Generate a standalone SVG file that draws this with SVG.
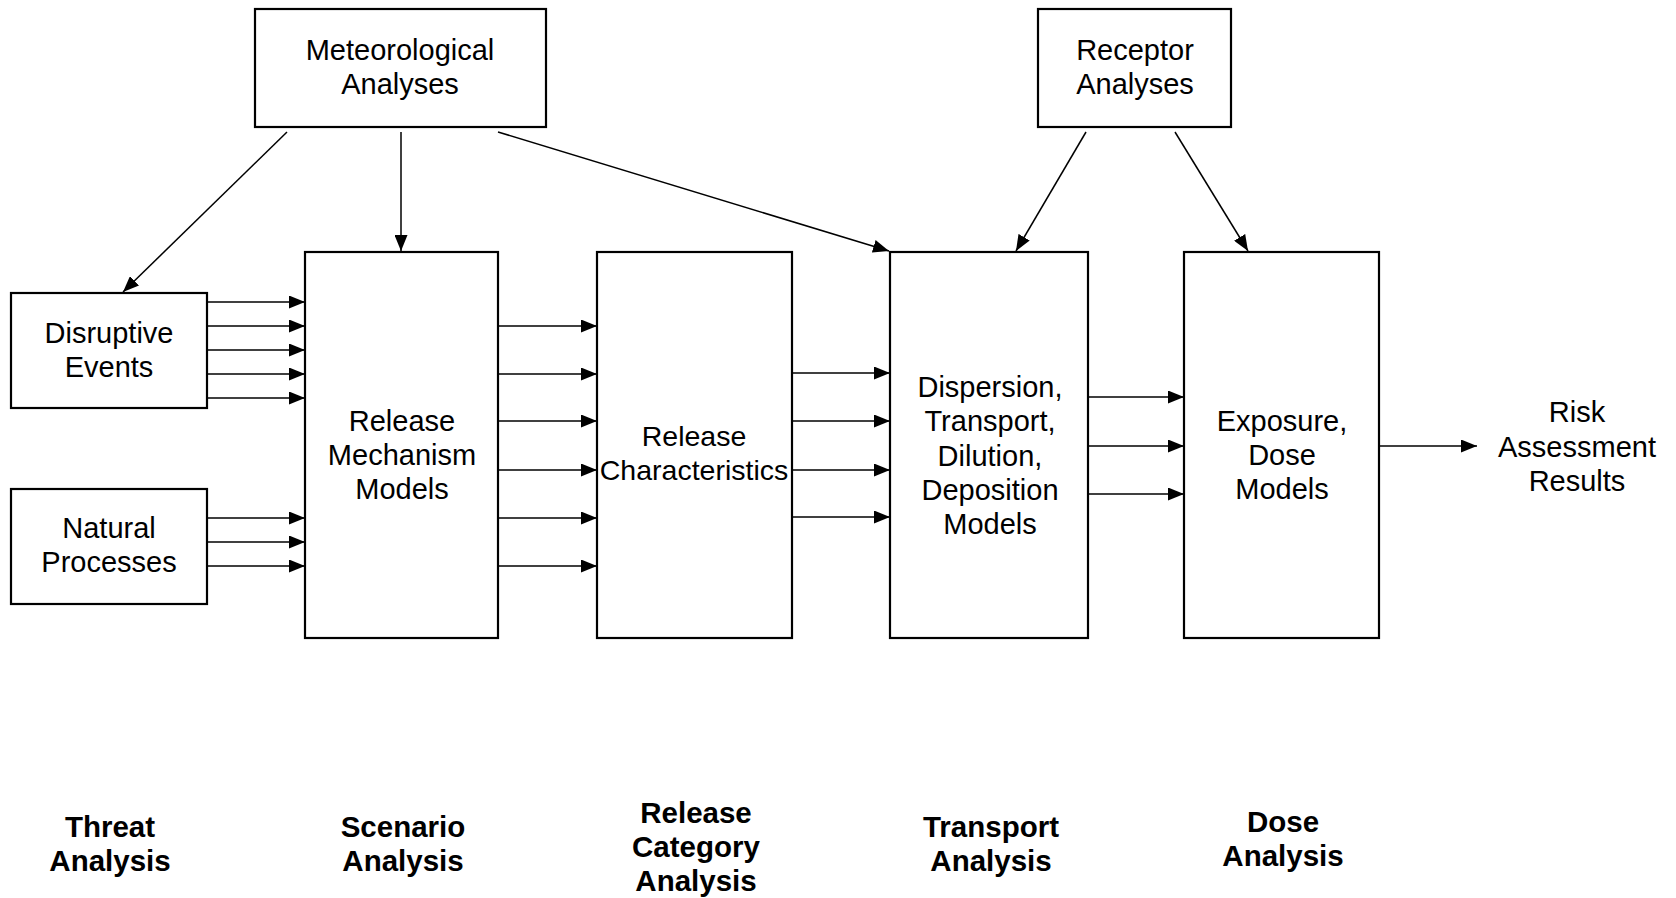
<svg xmlns="http://www.w3.org/2000/svg" width="1676" height="898" viewBox="0 0 1676 898">
<style>
.box{fill:#fff;stroke:#000;stroke-width:2.2}
.t{font-family:"Liberation Sans",Arial,sans-serif;font-size:29px;fill:#000;text-anchor:middle}
.b{font-family:"Liberation Sans",Arial,sans-serif;font-size:29.5px;font-weight:bold;fill:#000;text-anchor:middle}
.c line{stroke:#000;stroke-width:1.5;marker-end:url(#ah)}
</style>
<defs>
<marker id="ah" viewBox="0 0 16 13" refX="16" refY="6.5" markerWidth="16" markerHeight="13" markerUnits="userSpaceOnUse" orient="auto">
<path d="M0,0 L16,6.5 L0,13 z" fill="#000"/>
</marker>
</defs>
<rect width="1676" height="898" fill="#fff"/>
<g class="c" id="connectors">
<line x1="207" y1="302" x2="305" y2="302"/>
<line x1="207" y1="326" x2="305" y2="326"/>
<line x1="207" y1="350" x2="305" y2="350"/>
<line x1="207" y1="374" x2="305" y2="374"/>
<line x1="207" y1="398" x2="305" y2="398"/>
<line x1="207" y1="518" x2="305" y2="518"/>
<line x1="207" y1="542" x2="305" y2="542"/>
<line x1="207" y1="566" x2="305" y2="566"/>
<line x1="498" y1="326" x2="597" y2="326"/>
<line x1="498" y1="374" x2="597" y2="374"/>
<line x1="498" y1="421" x2="597" y2="421"/>
<line x1="498" y1="470" x2="597" y2="470"/>
<line x1="498" y1="518" x2="597" y2="518"/>
<line x1="498" y1="566" x2="597" y2="566"/>
<line x1="792" y1="373" x2="890" y2="373"/>
<line x1="792" y1="421" x2="890" y2="421"/>
<line x1="792" y1="470" x2="890" y2="470"/>
<line x1="792" y1="517" x2="890" y2="517"/>
<line x1="1088" y1="397" x2="1184" y2="397"/>
<line x1="1088" y1="446" x2="1184" y2="446"/>
<line x1="1088" y1="494" x2="1184" y2="494"/>
<line x1="1379" y1="446" x2="1477" y2="446"/>
<line x1="287" y1="132" x2="123" y2="292"/>
<line x1="401" y1="132" x2="401" y2="251"/>
<line x1="498" y1="132" x2="889" y2="251"/>
<line x1="1086" y1="132" x2="1016" y2="251"/>
<line x1="1175" y1="132" x2="1248" y2="251"/>
</g>
<g id="met"><rect class="box" x="255" y="9" width="291" height="118"/><text class="t" x="400" y="60">Meteorological</text><text class="t" x="400" y="94">Analyses</text></g>
<g id="rec"><rect class="box" x="1038" y="9" width="193" height="118"/><text class="t" x="1135" y="60">Receptor</text><text class="t" x="1135" y="94">Analyses</text></g>
<g id="dis"><rect class="box" x="11" y="293" width="196" height="115"/><text class="t" x="109" y="343">Disruptive</text><text class="t" x="109" y="377">Events</text></g>
<g id="nat"><rect class="box" x="11" y="489" width="196" height="115"/><text class="t" x="109" y="538">Natural</text><text class="t" x="109" y="572">Processes</text></g>
<g id="rm"><rect class="box" x="305" y="252" width="193" height="386"/><text class="t" x="402" y="431">Release</text><text class="t" x="402" y="465">Mechanism</text><text class="t" x="402" y="499">Models</text></g>
<g id="rc"><rect class="box" x="597" y="252" width="195" height="386"/><text class="t" x="694" y="446" style="font-size:28.5px">Release</text><text class="t" x="694" y="480" style="font-size:28.5px">Characteristics</text></g>
<g id="dp"><rect class="box" x="890" y="252" width="198" height="386"/><text class="t" x="990" y="397">Dispersion,</text><text class="t" x="990" y="431">Transport,</text><text class="t" x="990" y="466">Dilution,</text><text class="t" x="990" y="500">Deposition</text><text class="t" x="990" y="534">Models</text></g>
<g id="ex"><rect class="box" x="1184" y="252" width="195" height="386"/><text class="t" x="1282" y="431">Exposure,</text><text class="t" x="1282" y="465">Dose</text><text class="t" x="1282" y="499">Models</text></g>
<g id="risk"><text class="t" x="1577" y="422">Risk</text><text class="t" x="1577" y="457">Assessment</text><text class="t" x="1577" y="491">Results</text></g>
<g id="labels">
<text class="b" x="110" y="837">Threat</text><text class="b" x="110" y="871">Analysis</text>
<text class="b" x="403" y="837">Scenario</text><text class="b" x="403" y="871">Analysis</text>
<text class="b" x="696" y="823">Release</text><text class="b" x="696" y="857">Category</text><text class="b" x="696" y="891">Analysis</text>
<text class="b" x="991" y="837">Transport</text><text class="b" x="991" y="871">Analysis</text>
<text class="b" x="1283" y="832">Dose</text><text class="b" x="1283" y="866">Analysis</text>
</g>
</svg>
